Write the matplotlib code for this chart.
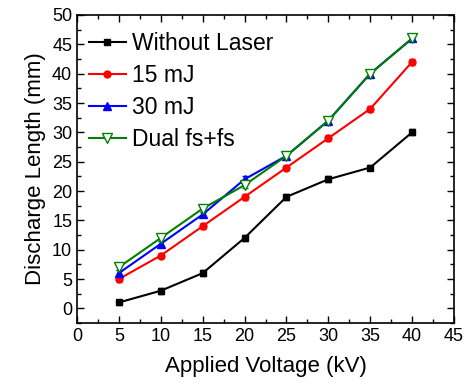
import matplotlib
matplotlib.use("Agg")
import matplotlib.pyplot as plt
import numpy as np
from matplotlib.ticker import MultipleLocator

plt.rcParams['font.family'] = ['Liberation Sans', 'DejaVu Sans']

voltage = [5, 10, 15, 20, 25, 30, 35, 40]
no_laser = [1, 3, 6, 12, 19, 22, 24, 30]
mj15 = [5, 9, 14, 19, 24, 29, 34, 42]
mj30 = [6, 11, 16, 22, 26, 32, 40, 46]
dual = [7, 12, 17, 21, 26, 32, 40, 46]
err = 0.5

fig = plt.figure(figsize=(4.67, 3.83), dpi=100)
ax = fig.add_axes([77/467, 1-323/383, (454-77)/467, (323-15)/383])

c1 = ax.errorbar(voltage, no_laser, yerr=err, color='black', marker='s', ms=5, lw=1.5,
                 capsize=2.5, label='Without Laser')
c2 = ax.errorbar(voltage, mj15, yerr=err, color='red', marker='o', ms=5, lw=1.5,
                 capsize=2.5, label='15 mJ')
c3 = ax.errorbar(voltage, mj30, yerr=err, color='blue', marker='^', ms=6, lw=1.5,
                 capsize=2.5, label='30 mJ')
c4 = ax.errorbar(voltage, dual, yerr=err, color='green', marker='v', ms=7, lw=1.5,
                 mfc='white', mec='green', capsize=2.5, label='Dual fs+fs')

ax.set_xlim(0, 45)
ax.set_ylim(-2.5, 50)
ax.xaxis.set_major_locator(MultipleLocator(5))
ax.xaxis.set_minor_locator(MultipleLocator(2.5))
ax.yaxis.set_major_locator(MultipleLocator(5))
ax.yaxis.set_minor_locator(MultipleLocator(2.5))
ax.tick_params(which='both', direction='in', top=True, right=True, labelsize=13, width=1)
ax.tick_params(which='major', length=5)
ax.tick_params(which='minor', length=3)
for s in ax.spines.values():
    s.set_linewidth(1.2)

ax.set_xlabel('Applied Voltage (kV)', fontsize=16, labelpad=8)
ax.set_ylabel('Discharge Length (mm)', fontsize=16)

handles = [c[0] for c in (c1, c2, c3, c4)]
labels = ['Without Laser', '15 mJ', '30 mJ', 'Dual fs+fs']
ax.legend(handles, labels, loc='upper left', frameon=False, fontsize=16.5, handlelength=1.6,
          handletextpad=0.3, labelspacing=0.4, borderaxespad=0.2,
          bbox_to_anchor=(-0.005, 0.99))

fig.savefig('out.png', dpi=100)
